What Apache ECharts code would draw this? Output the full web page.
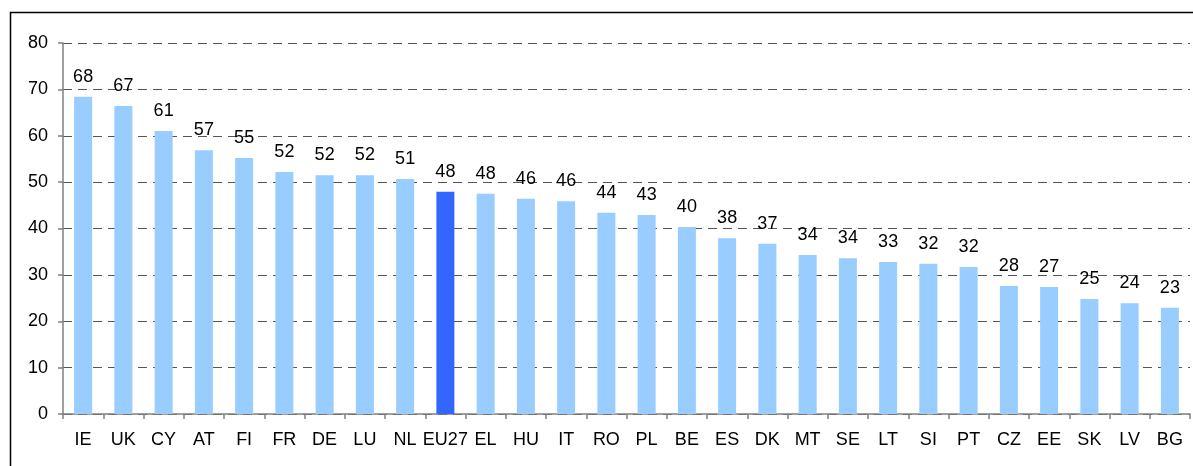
<!DOCTYPE html>
<html>
<head>
<meta charset="utf-8">
<script src="https://cdn.jsdelivr.net/npm/echarts@6/dist/echarts.min.js"></script>
<style>
html,body{margin:0;padding:0;background:#fff;}
#chart{width:1193px;height:466px;}
</style>
</head>
<body>
<div id="chart"></div>
<script>
var categories = ['IE','UK','CY','AT','FI','FR','DE','LU','NL','EU27','EL','HU','IT','RO','PL','BE','ES','DK','MT','SE','LT','SI','PT','CZ','EE','SK','LV','BG'];
var values = [68.4,66.4,61.0,56.9,55.2,52.2,51.5,51.5,50.7,47.9,47.5,46.4,45.9,43.4,42.9,40.3,37.9,36.7,34.3,33.6,32.8,32.4,31.7,27.6,27.4,24.8,23.9,22.9];
var labels = [68,67,61,57,55,52,52,52,51,48,48,46,46,44,43,40,38,37,34,34,33,32,32,28,27,25,24,23];
var yTicks = [0,10,20,30,40,50,60,70,80];
var highlight = 'EU27';

var chart = echarts.init(document.getElementById('chart'));
var font = 'Liberation Sans, Arial, sans-serif';
chart.setOption({
  animation: false,
  graphic: [{
    type: 'rect', z: 100,
    shape: {x: 10.5, y: 12.5, width: 1250, height: 500},
    style: {fill: 'none', stroke: '#000', lineWidth: 1.5}
  }],
  grid: {left: 63, top: 43, right: 3, bottom: 52, containLabel: false},
  xAxis: {
    type: 'category', data: categories,
    axisLine: {lineStyle: {color: '#808080', width: 1.5}},
    axisTick: {show: true, alignWithLabel: false, length: 5, lineStyle: {color: '#808080', width: 1.5}},
    axisLabel: {color: '#000', fontSize: 18, fontFamily: font, margin: 17, interval: 0}
  },
  yAxis: {
    type: 'value', min: yTicks[0], max: yTicks[yTicks.length - 1], interval: 10,
    axisLine: {show: true, lineStyle: {color: '#808080', width: 1.5}},
    axisTick: {show: true, length: 5, lineStyle: {color: '#808080', width: 1.5}},
    axisLabel: {color: '#000', fontSize: 18, fontFamily: font, margin: 15},
    splitLine: {show: true, lineStyle: {color: '#555', type: [9, 6], width: 1.2}}
  },
  series: [{
    type: 'bar',
    barWidth: 18,
    data: values.map(function (v, i) {
      return {value: v, itemStyle: {color: categories[i] === highlight ? '#3366FF' : '#99CCFF'}};
    }),
    label: {
      show: true, position: 'top', distance: 11,
      color: '#000', fontSize: 18, fontFamily: font,
      formatter: function (p) { return String(labels[p.dataIndex]); }
    }
  }]
});
</script>
</body>
</html>
